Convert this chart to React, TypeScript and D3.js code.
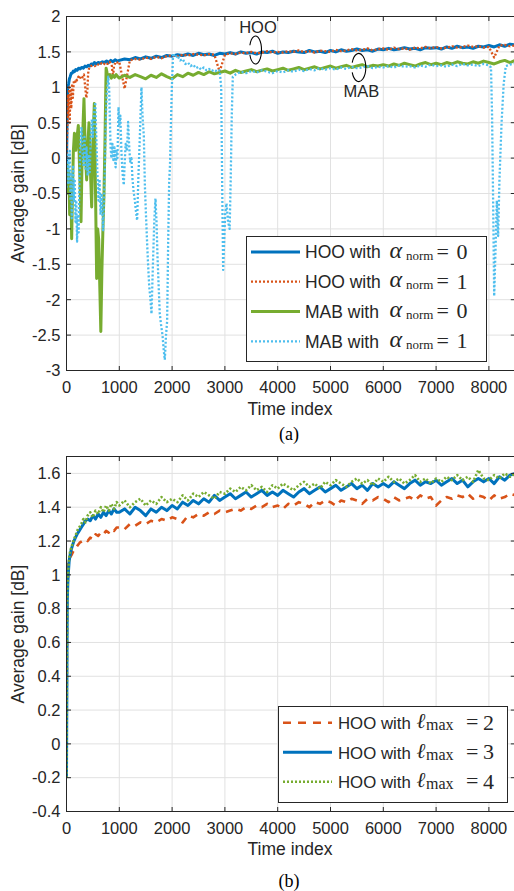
import React from 'react';
import * as d3 from 'd3';

// ---------------- data ----------------
const xTickValues = [0, 1000, 2000, 3000, 4000, 5000, 6000, 7000, 8000];
const yTicksTop = [-3, -2.5, -2, -1.5, -1, -0.5, 0, 0.5, 1, 1.5, 2];
const yTicksBottom = [-0.4, -0.2, 0, 0.2, 0.4, 0.6, 0.8, 1, 1.2, 1.4, 1.6];
const lateTimes = d3.range(1000, 8501, 100);
const mabStableTimes = d3.range(3200, 8001, 100);

// (a) HOO alpha_norm = 0
const hooA0Early = [[0,-0.12],[8,0.4],[15,0.8],[25,1.0],[40,1.05],[55,1.12],[70,1.15],[90,1.2],[110,1.2],[130,1.23],[150,1.22],[175,1.25],[200,1.24],[230,1.27],[260,1.26],[290,1.28],[320,1.27],[350,1.3],[380,1.29],[410,1.31],[440,1.3],[470,1.33],[500,1.32],[530,1.35],[560,1.33],[600,1.35],[640,1.34],[680,1.36],[720,1.35],[760,1.37],[800,1.35],[840,1.38],[880,1.36],[920,1.39],[960,1.37]];
const hooA0Late = [1.38,1.40,1.39,1.42,1.40,1.43,1.41,1.44,1.42,1.45,
  1.44,1.46,1.45,1.47,1.45,1.48,1.46,1.47,1.45,1.48,
  1.47,1.49,1.47,1.50,1.48,1.49,1.47,1.50,1.49,1.51,
  1.48,1.50,1.49,1.51,1.50,1.49,1.52,1.50,1.51,1.49,
  1.52,1.50,1.53,1.51,1.52,1.54,1.52,1.53,1.51,1.54,
  1.53,1.55,1.53,1.54,1.56,1.54,1.55,1.53,1.56,1.55,
  1.56,1.54,1.57,1.55,1.58,1.56,1.57,1.55,1.58,1.57,
  1.59,1.57,1.60,1.58,1.61,1.60];

// (a) HOO alpha_norm = 1
const hooA1Early = [[0,0.0],[10,0.3],[20,0.55],[30,0.9],[40,0.6],[50,1.0],[60,0.5],[75,0.95],[90,0.7],[105,1.05],[120,0.85],[140,1.1],[160,1.05],[180,1.12],[200,1.1],[225,1.15],[250,1.12],[275,1.16],[300,1.14],[330,1.18],[355,1.0],[375,0.85],[395,0.95],[410,1.2],[430,1.28],[460,1.3],[500,1.31],[540,1.3],[580,1.33],[620,1.31],[660,1.34],[700,1.32],[740,1.35],[780,1.33],[820,1.36],[860,1.3],[880,1.15],[900,1.3],[930,1.36],[960,1.35]];
const hooA1Late = [1.36,0.98,1.38,1.40,1.39,1.42,1.40,1.43,1.41,1.44,
  1.45,1.44,1.46,1.45,1.47,1.46,1.45,1.47,1.46,1.22,
  1.46,1.48,1.47,1.49,1.48,1.50,1.48,1.49,1.51,1.49,
  1.50,1.49,1.51,1.50,1.52,1.50,1.51,1.49,1.52,1.51,
  1.50,1.53,1.51,1.52,1.54,1.52,1.53,1.55,1.52,1.54,
  1.55,1.53,1.56,1.54,1.55,1.53,1.56,1.55,1.57,1.55,
  1.57,1.55,1.56,1.58,1.56,1.57,1.59,1.57,1.58,1.56,
  1.57,1.42,1.59,1.60,1.58,1.59];

// (a) MAB alpha_norm = 0
const mabA0Early = [[0,-0.34],[15,-0.1],[30,-0.5],[45,-0.2],[60,-0.8],[80,-0.3],[98,-1.14],[115,-0.4],[130,0.1],[150,0.35],[175,0.11],[200,0.3],[224,0.46],[250,-0.2],[275,-0.9],[300,0.2],[331,0.84],[355,0.1],[382,-0.31],[405,0.2],[426,0.5],[450,-0.1],[477,-0.69],[500,0.2],[527,0.77],[550,-0.5],[571,-1.7],[590,-1.0],[610,-1.15],[630,-1.8],[650,-2.45],[670,-1.6],[690,-1.0],[710,-0.5],[730,0.3],[750,1.27],[770,1.2],[790,1.15],[820,1.18],[850,1.13],[880,1.17],[910,1.14],[940,1.18],[970,1.15]];
const mabA0Late = [1.13,1.17,1.14,1.18,1.15,1.12,1.17,1.14,1.19,1.15,
  1.12,1.18,1.15,1.20,1.17,1.21,1.18,1.22,1.19,1.21,
  1.23,1.20,1.24,1.21,1.23,1.25,1.22,1.24,1.26,1.23,
  1.25,1.27,1.24,1.26,1.28,1.25,1.27,1.29,1.26,1.28,
  1.30,1.27,1.29,1.31,1.28,1.30,1.32,1.29,1.31,1.30,
  1.32,1.30,1.33,1.31,1.34,1.32,1.30,1.33,1.35,1.32,
  1.34,1.32,1.35,1.33,1.36,1.34,1.33,1.36,1.34,1.37,
  1.35,1.33,1.36,1.38,1.35,1.38];

// (a) MAB alpha_norm = 1
const mabA1Early = [[0,-0.42],[12,-0.1],[25,0.05],[38,-0.35],[50,-0.05],[62,0.1],[75,-0.6],[88,-0.2],[100,-0.85],[112,-0.45],[125,-0.1],[140,-0.6],[155,-0.3],[170,-0.9],[185,-0.6],[200,-1.18],[215,-0.8],[230,-1.05],[245,-0.3],[260,0.1],[284,0.44],[300,0.15],[320,-0.1],[340,0.3],[360,-0.15],[380,0.15],[400,-0.25],[420,0.05],[440,-0.2],[460,0.3],[480,0.55],[500,0.3],[520,0.6],[545,0.79],[565,0.3],[585,-0.2],[605,-0.6],[625,-0.3],[645,-0.8],[665,-0.5],[694,-1.02],[710,-0.6],[725,-0.2],[740,0.4],[760,0.9],[790,1.15],[807,1.0],[820,0.6],[835,0.15],[850,0.0],[870,0.2],[890,-0.05],[910,0.15],[930,-0.13],[950,0.1],[965,0.0],[985,0.72],[1000,0.45],[1020,0.6],[1040,0.1],[1060,-0.2],[1085,-0.38],[1100,-0.1],[1120,0.2],[1145,0.1],[1167,0.51],[1185,0.2],[1205,-0.05],[1230,0.0],[1250,-0.3],[1275,-0.5],[1295,-0.6],[1315,-0.75],[1338,-0.88],[1360,-0.3],[1389,0.3],[1420,1.0],[1440,0.6],[1465,0.3],[1485,-0.4],[1505,-0.8],[1527,-1.2],[1545,-1.5],[1566,-1.8],[1590,-2.0],[1610,-2.2],[1625,-1.8],[1641,-1.4],[1662,-0.9],[1685,-0.57],[1705,-0.9],[1724,-1.4],[1745,-1.8],[1767,-2.2],[1790,-2.35],[1818,-2.5],[1840,-2.7],[1862,-2.85],[1885,-2.5],[1906,-2.3],[1925,-1.2],[1944,-0.34],[1960,-0.1],[1975,0.4],[1995,1.0],[2019,1.48],[2060,1.42],[2100,1.45],[2150,1.38],[2200,1.4],[2250,1.33],[2300,1.35],[2350,1.3],[2400,1.32],[2450,1.27],[2500,1.29],[2550,1.25],[2600,1.28],[2650,1.24],[2700,1.26],[2750,1.23],[2800,1.25],[2850,1.22],[2900,1.24],[2930,1.0],[2950,-0.5],[2967,-1.58],[2985,-1.2],[3005,-0.8],[3030,-0.64],[3060,-0.9],[3090,-1.0],[3110,-0.3],[3130,0.6],[3150,1.15]];
const mabA1Stable = [1.18,1.22,1.20,1.23,1.21,1.24,1.22,1.20,
  1.23,1.21,1.24,1.22,1.25,1.23,1.26,1.24,1.27,1.25,
  1.27,1.25,1.28,1.26,1.29,1.27,1.28,1.30,1.27,1.29,
  1.28,1.30,1.28,1.31,1.29,1.30,1.28,1.31,1.29,1.32,
  1.30,1.31,1.29,1.32,1.30,1.33,1.31,1.32,1.30,1.33,
  1.31];
const mabA1Tail = [[8040,1.28],[8060,0.6],[8080,-0.6],[8100,-1.95],[8125,-1.3],[8150,-0.6],[8175,-1.1],[8200,-0.3],[8240,0.5],[8280,1.05],[8320,1.3],[8400,1.32],[8500,1.34]];

// (b) HOO with l_max = 2, 3, 4
const lmax2Early = [[0,-0.2],[5,0.3],[10,0.8],[15,1.0],[25,1.07],[40,1.09],[60,1.1],[80,1.11],[100,1.12],[130,1.14],[160,1.15],[200,1.17],[250,1.19],[300,1.2],[350,1.21],[400,1.2],[450,1.22],[500,1.21],[550,1.24],[600,1.23],[650,1.25],[700,1.24],[750,1.26],[800,1.25],[850,1.27],[900,1.26],[950,1.28]];
const lmax2Late = [1.28,1.27,1.30,1.29,1.31,1.30,1.32,1.31,1.33,1.32,
  1.34,1.33,1.31,1.35,1.34,1.36,1.35,1.37,1.36,1.38,
  1.37,1.38,1.39,1.38,1.40,1.39,1.41,1.40,1.42,1.40,
  1.41,1.39,1.42,1.41,1.43,1.42,1.40,1.43,1.42,1.44,
  1.43,1.41,1.44,1.43,1.45,1.44,1.42,1.45,1.44,1.46,
  1.45,1.43,1.46,1.44,1.45,1.46,1.44,1.47,1.45,1.46,
  1.41,1.44,1.46,1.45,1.47,1.46,1.48,1.45,1.47,1.46,
  1.44,1.47,1.45,1.46,1.48,1.47];
const lmax3Early = [[0,-0.2],[5,0.2],[10,0.6],[15,0.85],[25,0.95],[35,1.01],[50,1.08],[70,1.12],[90,1.15],[110,1.17],[140,1.2],[170,1.22],[200,1.24],[240,1.26],[280,1.28],[320,1.3],[360,1.32],[400,1.33],[450,1.32],[500,1.35],[550,1.33],[600,1.36],[650,1.34],[700,1.37],[750,1.35],[800,1.38],[850,1.36],[900,1.39],[950,1.37]];
const lmax3Late = [1.37,1.39,1.36,1.40,1.38,1.35,1.39,1.37,1.40,1.38,
  1.41,1.39,1.43,1.41,1.44,1.42,1.45,1.43,1.47,1.44,
  1.46,1.48,1.45,1.47,1.49,1.46,1.48,1.50,1.47,1.49,
  1.47,1.50,1.48,1.46,1.49,1.51,1.48,1.50,1.52,1.49,
  1.51,1.53,1.50,1.52,1.54,1.51,1.53,1.50,1.54,1.52,
  1.54,1.52,1.55,1.53,1.51,1.54,1.56,1.53,1.55,1.54,
  1.56,1.53,1.55,1.57,1.54,1.56,1.52,1.55,1.57,1.55,
  1.57,1.54,1.58,1.56,1.59,1.60];
const lmax4Early = [[0,-0.2],[5,0.25],[10,0.65],[15,0.9],[25,0.97],[35,1.03],[50,1.1],[70,1.14],[90,1.16],[110,1.18],[140,1.21],[170,1.23],[200,1.26],[240,1.28],[280,1.3],[320,1.33],[360,1.31],[400,1.35],[450,1.37],[500,1.34],[550,1.38],[600,1.36],[650,1.4],[700,1.37],[750,1.41],[800,1.38],[850,1.42],[900,1.39],[950,1.43]];
const lmax4Late = [1.41,1.44,1.40,1.43,1.45,1.41,1.44,1.42,1.46,1.43,
  1.45,1.43,1.47,1.44,1.48,1.46,1.49,1.47,1.45,1.49,
  1.48,1.51,1.49,1.52,1.50,1.53,1.50,1.52,1.49,1.53,
  1.51,1.54,1.52,1.50,1.53,1.55,1.52,1.54,1.51,1.55,
  1.53,1.56,1.54,1.52,1.55,1.57,1.54,1.56,1.53,1.57,
  1.55,1.58,1.55,1.57,1.54,1.56,1.59,1.55,1.57,1.54,
  1.57,1.55,1.58,1.56,1.59,1.56,1.58,1.55,1.62,1.57,
  1.56,1.59,1.57,1.60,1.58,1.60];

// ---------------- helpers ----------------
const join = (early, times, late) => early.concat(times.map((t, i) => [t, late[i]]));

const AX = '#262626';
const GRID = '#e1e1e1';
const SANS = '"Liberation Sans", Arial, Helvetica, sans-serif';
const SERIF = '"Liberation Serif", "DejaVu Serif", "Times New Roman", serif';

const BLUE = '#0072BD';
const ORANGE = '#D95319';
const GREEN = '#77AC30';
const CYAN = '#4DBEEE';

const xScale = d3.scaleLinear().domain([0, 8500]).range([66.5, 515.3]);
const yTop = d3.scaleLinear().domain([-3, 2]).range([370.5, 16.5]);
const yBottom = d3.scaleLinear().domain([-0.4, 1.7]).range([811.5, 456.5]);

const topSeries = [
  { data: join(hooA0Early, lateTimes, hooA0Late), color: BLUE, width: 3, dash: undefined },
  { data: join(hooA1Early, lateTimes, hooA1Late), color: ORANGE, width: 2.3, dash: '2,2' },
  { data: join(mabA0Early, lateTimes, mabA0Late), color: GREEN, width: 3, dash: undefined },
  { data: join(mabA1Early, mabStableTimes, mabA1Stable).concat(mabA1Tail), color: CYAN, width: 2.3, dash: '2,2' },
];
const bottomSeries = [
  { data: join(lmax2Early, lateTimes, lmax2Late), color: ORANGE, width: 2.6, dash: '7,6' },
  { data: join(lmax3Early, lateTimes, lmax3Late), color: BLUE, width: 3, dash: undefined },
  { data: join(lmax4Early, lateTimes, lmax4Late), color: GREEN, width: 2.6, dash: '2,2' },
];

function Panel({ y, yTicks, series, clipId }) {
  const [x0, x1] = xScale.range();
  const [yb, yt] = y.range();
  const line = d3.line().x((d) => xScale(d[0])).y((d) => y(d[1]));
  return (
    <g>
      <rect x={x0} y={yt} width={x1 - x0} height={yb - yt} fill="#fff" />
      {xTickValues.map((t) => (
        <line key={'gx' + t} x1={xScale(t)} x2={xScale(t)} y1={yt} y2={yb} stroke={GRID} strokeWidth={1} />
      ))}
      {yTicks.map((v) => (
        <line key={'gy' + v} x1={x0} x2={x1} y1={y(v)} y2={y(v)} stroke={GRID} strokeWidth={1} />
      ))}
      <clipPath id={clipId}>
        <rect x={x0} y={yt} width={x1 - x0} height={yb - yt} />
      </clipPath>
      <g clipPath={`url(#${clipId})`}>
        {series.map((s, i) => (
          <path key={i} d={line(s.data)} fill="none" stroke={s.color} strokeWidth={s.width}
            strokeDasharray={s.dash} strokeLinejoin="round" />
        ))}
      </g>
      <rect x={x0} y={yt} width={x1 - x0} height={yb - yt} fill="none" stroke={AX} strokeWidth={1} />
      {xTickValues.map((t) => (
        <g key={'tx' + t}>
          <line x1={xScale(t)} x2={xScale(t)} y1={yb} y2={yb - 4.5} stroke={AX} />
          <line x1={xScale(t)} x2={xScale(t)} y1={yt} y2={yt + 4.5} stroke={AX} />
          <text x={xScale(t)} y={yb + 22} textAnchor="middle" fontSize={16.5} fontFamily={SANS} fill={AX}>{String(t)}</text>
        </g>
      ))}
      {yTicks.map((v) => (
        <g key={'ty' + v}>
          <line x1={x0} x2={x0 + 4.5} y1={y(v)} y2={y(v)} stroke={AX} />
          <line x1={x1} x2={x1 - 4.5} y1={y(v)} y2={y(v)} stroke={AX} />
          <text x={x0 - 6} y={y(v) + 5.8} textAnchor="end" fontSize={16.5} fontFamily={SANS} fill={AX}>{String(v)}</text>
        </g>
      ))}
    </g>
  );
}

function LegendEntry({ y, x0, color, width, dash, label, labelSize, sym, symSize, sub, subSize, val, textX, symX, subX, eqX, valX }) {
  return (
    <g>
      <line x1={x0} x2={x0 + 49} y1={y} y2={y} stroke={color} strokeWidth={width} strokeDasharray={dash} />
      <text x={textX} y={y + 6.3} fontSize={labelSize} fontFamily={SANS} fill={AX}>{label}</text>
      <text x={symX} y={y + 5.5} fontSize={symSize} fontStyle="italic" fontFamily={SERIF} fill={AX}>{sym}</text>
      <text x={subX} y={y + 7.5} fontSize={subSize} fontFamily={SERIF} fill={AX}>{sub}</text>
      <text x={eqX} y={y + 6.5} fontSize={22} fontFamily={SERIF} fill={AX}>=</text>
      <text x={valX} y={y + 6.8} fontSize={22} fontFamily={SERIF} fill={AX}>{val}</text>
    </g>
  );
}

function arcPath(cx, cy, rx, ry) {
  const a0 = (-160 * Math.PI) / 180;
  const a1 = (160 * Math.PI) / 180;
  const sx = cx + rx * Math.cos(a0), sy = cy + ry * Math.sin(a0);
  const ex = cx + rx * Math.cos(a1), ey = cy + ry * Math.sin(a1);
  return `M${sx},${sy} A${rx},${ry} 0 1 1 ${ex},${ey}`;
}

export default function App() {
  const topLegend = [
    { color: BLUE, width: 3, dash: undefined, label: 'HOO with', val: '0' },
    { color: ORANGE, width: 2.3, dash: '2,2', label: 'HOO with', val: '1' },
    { color: GREEN, width: 3, dash: undefined, label: 'MAB with', val: '0' },
    { color: CYAN, width: 2.3, dash: '2,2', label: 'MAB with', val: '1' },
  ];
  const topLegendY = [252, 281.7, 311.5, 341.3];
  const botLegend = [
    { color: ORANGE, width: 2.6, dash: '8,7', val: '2' },
    { color: BLUE, width: 3, dash: undefined, val: '3' },
    { color: GREEN, width: 2.6, dash: '2,2', val: '4' },
  ];
  const botLegendY = [722.7, 752.3, 781.7];
  return (
    <svg width={514} height={891} viewBox="0 0 514 891"
      style={{ position: 'absolute', left: 0, top: 0, background: '#fff' }}>
      <rect x={0} y={0} width={514} height={891} fill="#fff" />
      {/* Panel (a) */}
      <Panel y={yTop} yTicks={yTicksTop} series={topSeries} clipId="clipA" />
      <text x={258} y={33.3} textAnchor="middle" fontSize={16.5} fontFamily={SANS} fill={AX}>HOO</text>
      <path d={arcPath(255.5, 50, 6, 14)} fill="none" stroke="#000" strokeWidth={1.1} />
      <path d={arcPath(358.8, 67.5, 7, 14)} fill="none" stroke="#000" strokeWidth={1.1} />
      <text x={361.5} y={97} textAnchor="middle" fontSize={16.5} fontFamily={SANS} fill={AX}>MAB</text>
      <rect x={246.5} y={236.5} width={240} height={125} fill="#fff" stroke={AX} strokeWidth={1} />
      {topLegend.map((e, i) => (
        <LegendEntry key={i} y={topLegendY[i]} x0={251} color={e.color} width={e.width} dash={e.dash}
          label={e.label} labelSize={17.5} sym={'α'} symSize={24} sub="norm" subSize={13} val={e.val}
          textX={305} symX={389.5} subX={406} eqX={436.5} valX={456.5} />
      ))}
      <text transform={`translate(24,${(370.5 + 16.5) / 2}) rotate(-90)`} textAnchor="middle" fontSize={17.5}
        fontFamily={SANS} fill={AX}>Average gain [dB]</text>
      <text x={290} y={415} textAnchor="middle" fontSize={17.5} fontFamily={SANS} fill={AX}>Time index</text>
      <text x={289} y={440} textAnchor="middle" fontSize={18} fontFamily={SERIF} fill="#000">(a)</text>

      {/* Panel (b) */}
      <Panel y={yBottom} yTicks={yTicksBottom} series={bottomSeries} clipId="clipB" />
      <rect x={278.5} y={706.5} width={229} height={96} fill="#fff" stroke={AX} strokeWidth={1} />
      {botLegend.map((e, i) => (
        <LegendEntry key={i} y={botLegendY[i]} x0={283} color={e.color} width={e.width} dash={e.dash}
          label="HOO with" labelSize={16.8} sym={'ℓ'} symSize={21} sub="max" subSize={16} val={e.val}
          textX={338} symX={416.5} subX={426} eqX={466} valX={483} />
      ))}
      <text transform={`translate(24,${(811.5 + 456.5) / 2}) rotate(-90)`} textAnchor="middle" fontSize={17.5}
        fontFamily={SANS} fill={AX}>Average gain [dB]</text>
      <text x={290} y={855} textAnchor="middle" fontSize={17.5} fontFamily={SANS} fill={AX}>Time index</text>
      <text x={289} y={887} textAnchor="middle" fontSize={18} fontFamily={SERIF} fill="#000">(b)</text>
    </svg>
  );
}
